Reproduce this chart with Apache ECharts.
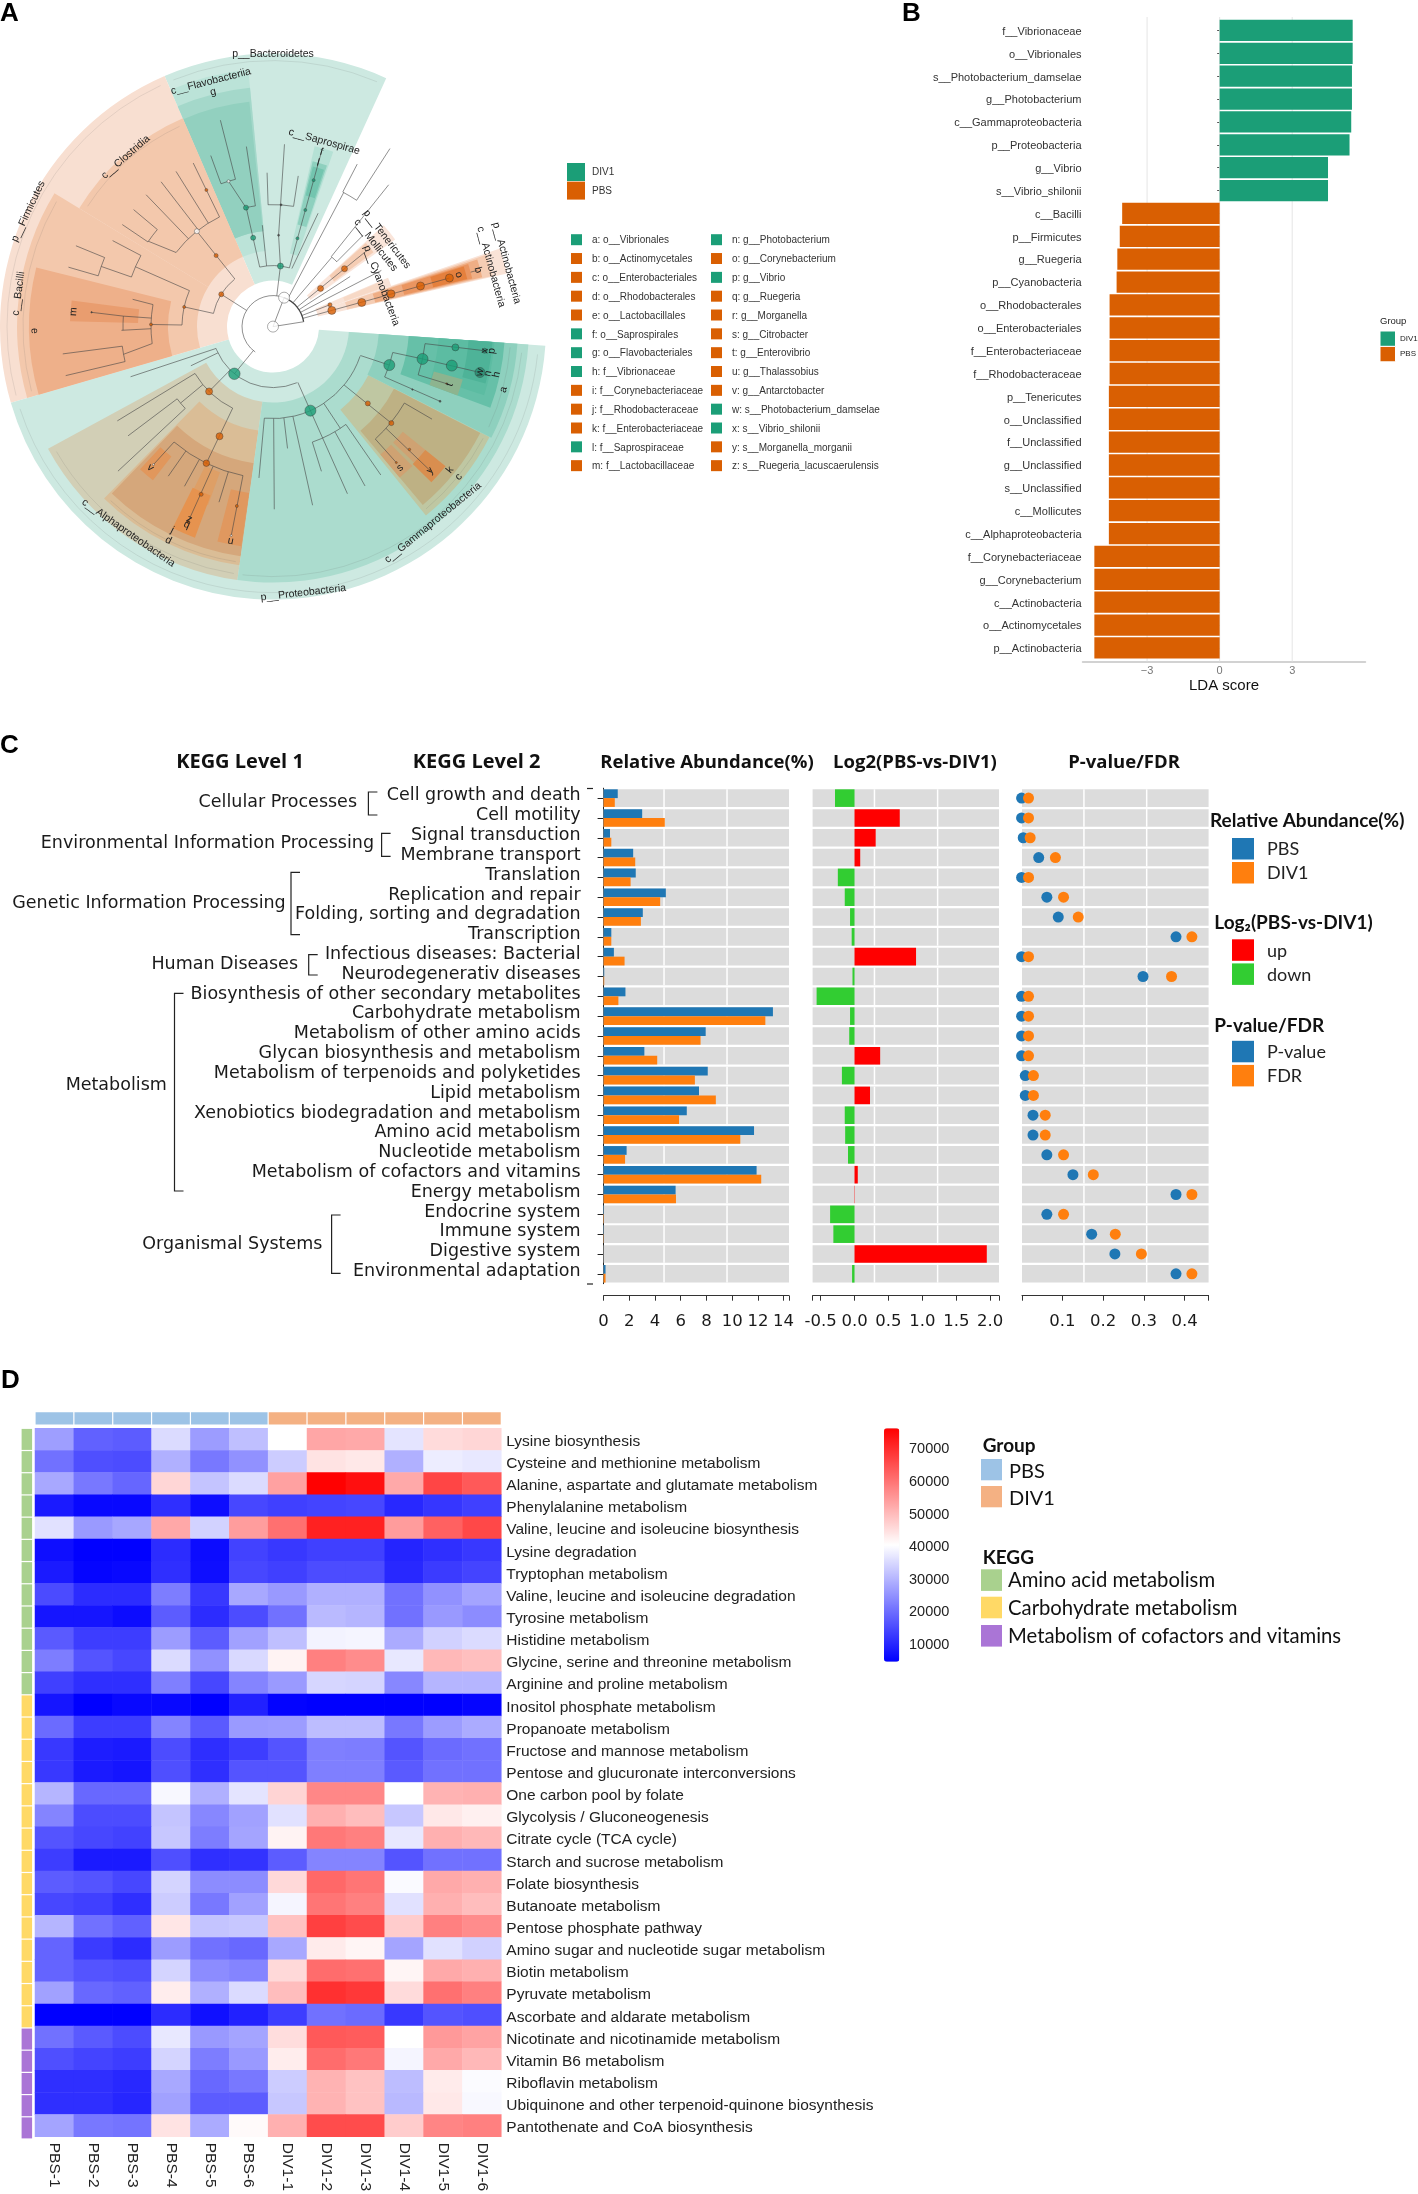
<!DOCTYPE html>
<html><head><meta charset="utf-8">
<style>html,body{margin:0;padding:0;background:#fff}#c{width:1418px;height:2194px}</style>
<script src="https://cdn.jsdelivr.net/npm/echarts@6/dist/echarts.min.js"></script></head>
<body><div id="c"></div>
<script>
// ---------- Panel A data (polar: radius, degrees counter-clockwise from east)
const cladeSectors=[
[46,273,65.5,113.4,'#CDE9E1'],[46,273,113.4,196.2,'#F8DFD1'],[46,273,196.2,356,'#CDE9E1'],
[46,240,12.8,19,'#F9E3D7'],[76,225,13,18.6,'#F5CDB4'],[105,215,13.3,18.2,'#EFAE85'],[135,205,13.6,17.8,'#EA9560'],[165,200,13.8,17.5,'#E5803D'],
[46,125,19,23,'#F9E3D7'],[76,115,19.5,22.5,'#F7D9C6'],
[46,150,35.5,42.5,'#FAE5DA'],[76,125,36.5,42,'#F5CDB4'],
[76,258,95.5,113.4,'#BBE3D8'],[96,240,95.5,113.4,'#A4D8CA'],[96,226,96,113.4,'#92D0BF'],
[75,185,71,77,'#B5E1D5'],[105,170,71.5,76.5,'#8ED0BE'],[135,165,72,76,'#73C5AF'],
[76,227,113.4,148.6,'#F3C8AC'],[76,256,148.6,196.2,'#F3C8AC'],[105,244,166,196.2,'#EEB08A'],[135,203,172.6,178.5,'#E99D6F'],
[76,256,208.5,262,'#D2CFB6'],[105,241,225.5,262,'#DABD96'],[138,232,226,262,'#D5A77B'],[165,195,227,232,'#E1975C'],[155,190,244,250,'#DE9F66'],[180,225,243.5,249.7,'#E6934F'],[168,222,255.5,261.8,'#E0985F'],
[76,256,262,356,'#ABDCCE'],[107,243,309,333,'#BFC7A2'],[136,233,310,332.8,'#BEB184'],[167,222,316,321,'#CFA272'],[167,197,310,315,'#CFA272'],[196,222,315.5,321,'#D98E4F'],
[106,245,333,356,'#8ED0BE'],[136,232,339.5,356,'#66C0A8'],[166,222,342,356,'#5CBCA2'],[196,220,345,356,'#4EB398'],[167,197,339.5,344.4,'#8DB48F']
];
const cladeArcs=[[31,9,69],[31,69,235],[61,74.4,102.6],[122,98.3,102.8],[152,104.3,110],[122,80.3,92.4],
[61,129,167.5],[122,116,142.6],[151,140,145.9],[91,156.7,179],[150,151.7,160.7],[182,157.7,163.8],[122,169.6,188],[150,176,181.4],[152,187.4,193.3],
[61,201,293],[91,211,243.7],[120,217,223],[152,229.4,258.6],[92,264.6,341.2],[122,288.8,306.7],[152,312.3,329.8],[122.5,335.7,347.8],[153,341.6,353.6],[91,45.4,50],[151.5,56.5,62.5]];
const cladeFaintArcs=[[266,67,112],[266,115,195],[266,198,354],[250,150,195],[221,115,147],[250,210,261],[250,263,354],[238,227,261],[238,335,355],[238,310,332]];
const cladeEdges=[[0,0,31,69],[0,0,31,9],[31,62,151.5,62.2],[151.5,62.6,183,62.6],[151.5,56.5,213,56.7],[31,50,91,49.7],[91,50.2,183,50.8],[91,45.5,128,45.4],
[31,39,122,39],[31,33,92,33],[31,27.4,122,27.4],[31,21,61,21],[31,15.4,183,15.4],[205,15.4,212,15.4],
[31,83,61,83],[61,102.6,122,102.7],[122,102.8,152,107],[152,104.3,213,104.3],[152,110,182,110],[122,98.3,182,98.4],[61,96,102,96],[61,83,91.5,86.5],[91.5,86.5,182.7,86.4],[122,80.3,152.8,80.5],[122,92.3,154,92.2],
[61,74.4,182,74.5],[61,72,122,68.3],
[31,148.5,61,148],[61,128.7,122,128.6],[61,167.5,91,167.5],[122,116,182,116],[122,122,183,122],[122,127.7,183,127.7],[122,133.9,183,133.9],[122,142.6,151,145.6],[151,145.9,182,145.9],[151,140,182,140],
[91,156.7,150,156.5],[150,151.7,182,151.8],[150,160.7,182,160.7],[182,157.7,213,157.7],[182,163.8,213,163.8],
[91,179,122,179],[122,169.6,143,169],[122,176,150,176],[150,176,182.5,175.5],[122,181,151.6,181.4],[122,188,152,190.5],[152,187.4,212,187.4],[152,193.3,213,193.3],
[31,230.7,61,230.7],[61,201,151,199.4],[61,205.5,91,205.5],[61,225.4,91,225.4],[91,211,182,211.2],[91,219.6,120,219.6],[120,217,181.5,217],[120,223,212,223],[91,243.7,152,244],
[152,229.4,182.6,229.1],[152,235,182.6,235],[152,241,182.6,241],[152,246.8,213,246.5],[152,252.9,183.7,252.9],[152,258.6,213,258.7],
[61,294,122,294],[92,264.6,152,264.7],[92,270.4,182.7,270.4],[92,276.8,122.7,276.8],[92,282.5,183,282.5],[122,288.8,152.6,288.5],[122,294,183,294],[92,303.5,122,303.5],[122,300.5,184,300],[122,306.7,183.4,306],
[92,320.6,152.7,320.8],[152,312.3,183.6,312.2],[152,318,213,317.5],[152,329.8,184,329.8],
[92,341.7,122.5,341.7],[122.5,347.8,153,347.8],[122.5,335.7,183,335.9],[153,341.6,182.5,341.8],[153,347.8,212,347.5],[153,353.6,213,353.5]];
const cladeNodes=[[0,0,11,'w'],[31,69,11,'w'],[61,230.7,11.5,'g'],[92,294,11,'g'],[122.5,341.7,11,'g'],[153,347.8,11,'g'],[183,347.7,11,'g'],[183.6,353.5,7,'g'],[212,347.5,10,'h'],[213,353.5,5,'h'],
[61,83,6,'g'],[91,102.6,5,'g'],[122,102.8,5,'g'],[152,107,3,'w'],[91.5,86.5,2,'d'],[122,86.2,2,'d'],[91.6,74.5,3,'g'],[121,74.5,3,'g'],[152,74.5,3,'g'],[153,335.7,1.5,'d'],[183,335.9,2,'d'],
[61,15.4,8,'o'],[92,15.2,8,'o'],[122.5,15.5,8,'o'],[153,15.4,8,'o'],[183,15.4,8,'o'],[61,21,4,'o'],[61,38.8,6,'o'],[92,39,6,'o'],[61,148,5,'o'],[91,128.7,4,'o'],[91,167.5,3,'o'],[122,128.6,5,'w'],[122,179,3,'o'],[152,116,3,'o'],
[91,225.4,7,'o'],[122,244,7,'o'],[152,244,6.5,'o'],[182.5,246.8,4,'o'],[213,246.5,3,'o'],[183,258.6,3,'o'],[213,258.7,2,'w'],[182.6,229.1,2,'w'],[122,321,5,'o'],[152.7,320.8,5,'o'],[183.6,318,2.5,'o'],[183.6,312.2,2,'o'],[213,317.5,2,'o'],[182.5,341.8,1.5,'o'],[182,175.5,1.5,'d']];
const cladeLabels=[['p__Bacteroidetes',272,90],['c__Flavobacteriia',253,104.2],['g',242,104.3],['c__Saprospirae',192,74.5],['f',181,74.5],['l',170,74.6],
['p__Tenericutes',143.5,37.5],['c__Mollicutes',131,38.4],['p__Cyanobacteria',116,20.7],['p__Actinobacteria',242,15.2],['c__Actinobacteria',226,15.3],['b',212.6,15.4],['o',193,15.6],
['a',239,344.7],['h',228.5,347.9],['n',220,347.7],['w',212,347.5],['p',220,353.6],['x',213,353.5],['t',186,341.8],['c',239,321],['k',227.5,321],['y',213,317.5],['s',190,312],
['c__Gammaproteobacteria',253,309.2],['p__Proteobacteria',268,276.5],['c__Alphaproteobacteria',252,235],['d',238,243.9],['j',227,243.7],['q',216,246.5],['z',210,246.5],['u',218.5,258.8],['v',187,229],
['m',200,175.7],['e',238.5,181],['c__Bacilli',256.6,172.6],['p__Firmicutes',270.5,154.8],['c__Clostridia',224.6,131]];
const cladeGroups=[['DIV1','#1B9E77'],['PBS','#D95F02']];
const cladeKeyLeft=[['a: o__Vibrionales',1],['b: o__Actinomycetales',0],['c: o__Enterobacteriales',0],['d: o__Rhodobacterales',0],['e: o__Lactobacillales',0],['f: o__Saprospirales',1],['g: o__Flavobacteriales',1],['h: f__Vibrionaceae',1],['i: f__Corynebacteriaceae',0],['j: f__Rhodobacteraceae',0],['k: f__Enterobacteriaceae',0],['l: f__Saprospiraceae',1],['m: f__Lactobacillaceae',0]];
const cladeKeyRight=[['n: g__Photobacterium',1],['o: g__Corynebacterium',0],['p: g__Vibrio',1],['q: g__Ruegeria',0],['r: g__Morganella',0],['s: g__Citrobacter',0],['t: g__Enterovibrio',0],['u: g__Thalassobius',0],['v: g__Antarctobacter',0],['w: s__Photobacterium_damselae',1],['x: s__Vibrio_shilonii',1],['y: s__Morganella_morganii',0],['z: s__Ruegeria_lacuscaerulensis',0]];
// ---------- Panel B data
const ldaCategories=['f__Vibrionaceae','o__Vibrionales','s__Photobacterium_damselae','g__Photobacterium','c__Gammaproteobacteria','p__Proteobacteria','g__Vibrio','s__Vibrio_shilonii','c__Bacilli','p__Firmicutes','g__Ruegeria','p__Cyanobacteria','o__Rhodobacterales','o__Enterobacteriales','f__Enterobacteriaceae','f__Rhodobacteraceae','p__Tenericutes','o__Unclassified','f__Unclassified','g__Unclassified','s__Unclassified','c__Mollicutes','c__Alphaproteobacteria','f__Corynebacteriaceae','g__Corynebacterium','c__Actinobacteria','o__Actinomycetales','p__Actinobacteria'];
const ldaScores=[5.5,5.5,5.47,5.47,5.44,5.37,4.48,4.48,-4.03,-4.13,-4.23,-4.26,-4.55,-4.55,-4.55,-4.55,-4.58,-4.58,-4.58,-4.58,-4.58,-4.58,-4.58,-5.18,-5.18,-5.18,-5.18,-5.18];
const ldaTicks=[-3,0,3];
// ---------- Panel C data
const keggLevel2=['Cell growth and death','Cell motility','Signal transduction','Membrane transport','Translation','Replication and repair','Folding, sorting and degradation','Transcription','Infectious diseases: Bacterial','Neurodegenerativ diseases','Biosynthesis of other secondary metabolites','Carbohydrate metabolism','Metabolism of other amino acids','Glycan biosynthesis and metabolism','Metabolism of terpenoids and polyketides','Lipid metabolism','Xenobiotics biodegradation and metabolism','Amino acid metabolism','Nucleotide metabolism','Metabolism of cofactors and vitamins','Energy metabolism','Endocrine system','Immune system','Digestive system','Environmental adaptation'];
const abundancePBS=[1.1,3.0,0.5,2.3,2.5,4.84,3.05,0.6,0.8,0.05,1.7,13.17,7.94,3.17,8.1,7.42,6.47,11.7,1.79,11.9,5.6,0.03,0.02,0,0.15];
const abundanceDIV1=[0.87,4.76,0.6,2.46,2.1,4.4,2.9,0.6,1.63,0.05,1.15,12.58,7.54,4.17,7.1,8.73,5.87,10.63,1.67,12.26,5.63,0.03,0.02,0,0.15];
const log2Ratio=[-0.288,0.667,0.312,0.084,-0.246,-0.144,-0.066,-0.042,0.907,-0.03,-0.559,-0.066,-0.078,0.378,-0.186,0.228,-0.144,-0.138,-0.096,0.048,0.005,-0.36,-0.312,1.95,-0.036];
const pValue=[0,0,0.004,0.042,0,0.062,0.09,0.379,0,0.298,0,0,0,0,0.009,0.009,0.028,0.028,0.062,0.126,0.379,0.062,0.172,0.229,0.379];
const fdrValue=[0.017,0.017,0.021,0.083,0.017,0.103,0.139,0.418,0.017,0.368,0.017,0.017,0.017,0.017,0.029,0.029,0.058,0.058,0.103,0.176,0.418,0.103,0.23,0.294,0.418];
const keggLevel1=[['Cellular Processes',368.4,792,815,357,800.8],['Environmental Information Processing',381.6,833.3,856.3,374,841.7],['Genetic Information Processing',291,872.4,934.7,285.7,902],['Human Diseases',308.7,954.6,975,298,963.4],['Metabolism',174.5,993.3,1191,166.8,1084.4],['Organismal Systems',331.6,1215,1273.4,322.4,1242.8]];
// ---------- Panel D data (thousands)
const pathways=['Lysine biosynthesis','Cysteine and methionine metabolism','Alanine, aspartate and glutamate metabolism','Phenylalanine metabolism','Valine, leucine and isoleucine biosynthesis','Lysine degradation','Tryptophan metabolism','Valine, leucine and isoleucine degradation','Tyrosine metabolism','Histidine metabolism','Glycine, serine and threonine metabolism','Arginine and proline metabolism','Inositol phosphate metabolism','Propanoate metabolism','Fructose and mannose metabolism','Pentose and glucuronate interconversions','One carbon pool by folate','Glycolysis / Gluconeogenesis','Citrate cycle (TCA cycle)','Starch and sucrose metabolism','Folate biosynthesis','Butanoate metabolism','Pentose phosphate pathway','Amino sugar and nucleotide sugar metabolism','Biotin metabolism','Pyruvate metabolism','Ascorbate and aldarate metabolism','Nicotinate and nicotinamide metabolism','Vitamin B6 metabolism','Riboflavin metabolism','Ubiquinone and other terpenoid-quinone biosynthesis','Pantothenate and CoA biosynthesis'];
const samples=['PBS-1','PBS-2','PBS-3','PBS-4','PBS-5','PBS-6','DIV1-1','DIV1-2','DIV1-3','DIV1-4','DIV1-5','DIV1-6'];
const pathwayClass=[0,0,0,0,0,0,0,0,0,0,0,0,1,1,1,1,1,1,1,1,1,1,1,1,1,1,1,2,2,2,2,2];
const heatValues=[
[26.6,18,17.3,35.2,26.3,31.3,40.3,52.8,52.4,36.4,45.3,46],
[20.2,15.5,15.1,29.1,21.3,24.8,33.1,44.2,43.5,29.1,37.7,37],
[28,21.3,18.7,46,32,35.2,53.5,76,74,52.4,66.5,63.6],
[8,5.5,5.5,11,6.2,14.3,13.3,14,14.4,10,12,13.3],
[36,26,27.8,52.5,33.9,54,60.4,71.5,71.5,54.2,62.5,66],
[6.4,4.5,4.5,10.5,6.1,13.6,12.3,13.3,13.3,9.4,11,12.3],
[8,5,5.5,11,6.4,14.3,13.3,15.1,15.1,10,12.6,14],
[14.9,10.5,10.5,22,12.3,28,25.9,29.1,29.1,20.2,24.8,27.4],
[7.3,7.3,6.1,17.3,10.5,15.1,20.2,30.6,29.9,20.2,25.9,24.1],
[17,13,13,26.3,17.3,27,31.3,38.5,38.9,28.4,33.8,35.2],
[22,16.2,14.4,35.2,24.8,34.9,42,58.2,56.4,37,50.3,49.2],
[13.3,11,11,22.3,14.4,23,26,34.5,34.2,23.4,29.8,29.8],
[7.3,4.4,5.5,5.5,4.4,9,4.8,4.4,4.4,4.4,4.4,5],
[19.4,13,13,23,17,26,26.3,30.9,30.9,21.3,26.3,28.4],
[12.3,8.4,8,15.1,10.9,13,16.2,22.3,22,16.2,19.4,20.2],
[12.3,8,7.3,15.5,11,16.2,16.2,22.3,22.3,17,20.2,20.2],
[29.9,19,19,39.2,29.1,36.4,46.3,57.1,57.1,40.3,51,51.4],
[23,15.1,15.1,32,23.4,27,36,51.4,49.6,32.4,43.5,42.4],
[16.2,14.4,13.7,32.4,22,27.4,42,59.3,58.2,37,51.4,50.3],
[13,8,8,15.5,11,11.5,17.3,23,23,16.2,20.2,20.2],
[17.3,16.2,14.4,34.2,24.1,24.1,45.6,61.5,59.7,39.6,52.4,51.4],
[14.4,13.3,11,33.1,21.3,27,38.9,59.7,58.2,36,51.4,49.6],
[29.9,20.2,18,43.8,32,32.4,48.9,67.2,65.4,47.4,58.2,56.4],
[18.4,12.6,10.5,26.3,20.2,19,28,43.1,41.7,27.4,36,33.8],
[18.4,16.2,15.5,34.2,24.1,23,45.6,61,60.4,41.7,52.4,51.4],
[27,19,18,42.8,29.1,35.2,49.6,69.4,68.3,45.3,60.4,58.2],
[4.4,4.4,4.4,10.5,6.6,9,13,20.2,19.4,12.3,16.2,15.5],
[20.2,17,15.1,37,25.9,27.4,45,63.6,63.2,40.3,54.6,53.2],
[15.5,14,13,34.2,22,25.9,42.8,61,59.3,38.9,52.4,50.3],
[11,11,10,28,19,21.3,33.1,51,48.9,30.9,43.1,39.7],
[11,11,9.7,27,17.3,17.3,32.4,51,48.9,30.4,43.5,39.2],
[27.4,21.3,20.7,44.2,28.4,41,51.4,65.4,65.4,47.4,57.4,58.2]];
const colorbarTicks=[70000,60000,50000,40000,30000,20000,10000];
const classNames=['Amino acid metabolism','Carbohydrate metabolism','Metabolism of cofactors and vitamins'];
const classColors=['#A9D18E','#FFD966','#AA75D6'];

// ---------- helpers
const SANS='"Liberation Sans",Arial,sans-serif', TAH='"DejaVu Sans",sans-serif', CAL='Lato,sans-serif', OPEN='"Open Sans",sans-serif';
const green='#1B9E77',orange='#D95F02';
const T=(text,x,y,font,o={})=>({type:'text',x,y,silent:true,z:20,style:{text,font,fill:o.fill||'#111',align:o.align||'left',textAlign:o.align||'left',verticalAlign:'middle',textVerticalAlign:'middle'}});
const R=(x,y,w,h,fill,stroke)=>({type:'rect',silent:true,z:20,shape:{x,y,width:w,height:h},style:{fill,stroke:stroke||null,lineWidth:stroke?1:0}});
const P=(pts)=>({type:'polyline',silent:true,z:20,shape:{points:pts},style:{stroke:'#222',lineWidth:1.2,fill:null}});
const g=[];
g.push(T('A',0,14,'bold 26px '+SANS,{fill:'#000'}),T('B',902,14,'bold 26px '+SANS,{fill:'#000'}),T('C',0,746,'bold 26px '+SANS,{fill:'#000'}),T('D',1,1381,'bold 26px '+SANS,{fill:'#000'}));
// A legends
cladeGroups.forEach((d,i)=>{g.push(R(567,163+i*18.6,18,18,d[1]),T(d[0],592,172.5+i*18.8,'10px '+SANS,{fill:'#333'}));});
[[cladeKeyLeft,571,592],[cladeKeyRight,711,732]].forEach(([list,sx,tx])=>list.forEach((d,i)=>{const y=239.7+i*18.83;g.push(R(sx,y-5.5,11,11,d[1]?green:orange),T(d[0],tx,y+1,'10px '+SANS,{fill:'#333'}));}));
// B legend
g.push(T('Group',1380,321,'9.5px '+SANS,{fill:'#222'}),R(1380,331,15.5,15.4,green,'#fff'),R(1380,346.4,15.5,15.4,orange,'#fff'),T('DIV1',1400,339,'8px '+SANS,{fill:'#222'}),T('PBS',1400,354,'8px '+SANS,{fill:'#222'}));
// C headers / level 1 / legends
[['KEGG Level 1',240,20],['KEGG Level 2',476.6,20],['Relative Abundance(%)',707,18.5],['Log2(PBS-vs-DIV1)',915,18.5],['P-value/FDR',1124,18.5]].forEach(d=>g.push(T(d[0],d[1],762.6,'bold '+d[2]+'px '+OPEN,{align:'center',fill:'#111'})));
keggLevel1.forEach(d=>{g.push(T(d[0],d[4],d[5]+1.3,'17.5px '+TAH,{align:'right',fill:'#1a1a1a'}),P([[d[1]+9,d[2]],[d[1],d[2]],[d[1],d[3]],[d[1]+9,d[3]]]));});
g.push(P([[587,788.5],[593,788.5]]),P([[587,1284],[593,1284]]));
const lg=(title,ty,items)=>{g.push(T(title,title[0]==='R'?1210:1214.3,ty+1.2,'bold 19px '+CAL,{fill:'#111'}));items.forEach(d=>g.push(R(1232,d[1],22,21.5,d[2]),T(d[0],1267,d[1]+11.5,'18px '+CAL,{fill:'#222'})));};
lg('Relative Abundance(%)',820,[['PBS',838,'#1F77B4'],['DIV1',862,'#FF7F0E']]);
lg('Log\u2082(PBS-vs-DIV1)',921.4,[['up',939.3,'#FF0000'],['down',963.4,'#32CD32']]);
lg('P-value/FDR',1024.7,[['P-value',1040.8,'#1F77B4'],['FDR',1064.9,'#FF7F0E']]);
// D legends
g.push(T('Group',982.7,1446.2,'bold 19px '+CAL,{fill:'#111'}),R(981,1459,21,21.3,'#9DC3E6'),T('PBS',1009,1471.2,'20px '+CAL),R(981,1486,21,21.3,'#F4B183'),T('DIV1',1009,1498.9,'20px '+CAL),T('KEGG',982.7,1557.9,'bold 19px '+CAL,{fill:'#111'}));
classNames.forEach((n,i)=>{const ys=[1569.3,1596.7,1625][i];g.push(R(981,ys,21,21.6,classColors[i]),T(n,1008,ys+11.5,'20.3px '+CAL));});
const cbMax=76150,cbMin=4360,cbTop=1428.3,cbH=233.4;
colorbarTicks.forEach(v=>g.push(T(String(v),909,cbTop+(cbMax-v)/(cbMax-cbMin)*cbH+1.2,'14.5px '+SANS,{fill:'#222'})));

// ---------- axes and series
const grid=[],xAxis=[],yAxis=[],series=[];
const addAxis=(gr,x,y)=>{grid.push(gr);const gi=grid.length-1;xAxis.push(Object.assign({gridIndex:gi},x));yAxis.push(Object.assign({gridIndex:gi},y));return gi;};
// Polar A
const polar={center:[273,326.6],radius:[0,273]};
const angleAxis={type:'value',min:0,max:360,startAngle:0,clockwise:false,show:false};
const radiusAxis={type:'value',min:0,max:273,show:false};
const rad=d=>d*Math.PI/180;
series.push({type:'custom',coordinateSystem:'polar',z:1,silent:true,clip:false,encode:{radius:0,angle:1},
 data:cladeSectors.map(s=>[s[1],s[2]]),
 renderItem(p,api){const s=cladeSectors[p.dataIndex],c=api.coord([s[1],s[2]]),c0=api.coord([s[0],s[2]]);
  return{type:'sector',shape:{cx:p.coordSys.cx,cy:p.coordSys.cy,r:c[2],r0:c0[2],startAngle:-rad(s[3]),endAngle:-rad(s[2]),clockwise:true},style:{fill:s[4]}};}});
series.push({type:'custom',coordinateSystem:'polar',z:2,silent:true,clip:false,encode:{radius:0,angle:1},
 data:cladeFaintArcs.map(s=>[s[0],s[1]]),
 renderItem(p,api){const s=cladeFaintArcs[p.dataIndex],c=api.coord([s[0],s[1]]);
  return{type:'arc',shape:{cx:p.coordSys.cx,cy:p.coordSys.cy,r:c[2],startAngle:-rad(s[2]),endAngle:-rad(s[1]),clockwise:true},style:{fill:null,stroke:'rgba(90,90,90,0.25)',lineWidth:0.5}};}});
series.push({type:'custom',coordinateSystem:'polar',z:2,silent:true,clip:false,encode:{radius:0,angle:1},
 data:cladeArcs.map(s=>[s[0],s[1]]),
 renderItem(p,api){const s=cladeArcs[p.dataIndex],c=api.coord([s[0],s[1]]);
  return{type:'arc',shape:{cx:p.coordSys.cx,cy:p.coordSys.cy,r:c[2],startAngle:-rad(s[2]),endAngle:-rad(s[1]),clockwise:true},style:{fill:null,stroke:'#444',lineWidth:s[0]===31&&s[1]===9?1.3:0.6}};}});
series.push({type:'custom',coordinateSystem:'polar',z:2,silent:true,clip:false,encode:{radius:0,angle:1},
 data:cladeEdges.map(s=>[s[0],s[1]]),
 renderItem(p,api){const s=cladeEdges[p.dataIndex],a=api.coord([s[0],s[1]]),b=api.coord([s[2],s[3]]);
  return{type:'line',shape:{x1:a[0],y1:a[1],x2:b[0],y2:b[1]},style:{stroke:'#444',lineWidth:0.6}};}});
const nodeCol={w:'#fff',g:'#1B9E77',h:'#2A8A70',o:'#D95F02',d:'#444'};
series.push({type:'scatter',coordinateSystem:'polar',z:3,silent:true,clip:false,data:cladeNodes.map(n=>({value:[n[0],n[1]],symbolSize:n[2],itemStyle:{color:nodeCol[n[3]]}})),itemStyle:{borderColor:'#333',borderWidth:0.5}});
series.push({type:'custom',coordinateSystem:'polar',z:4,silent:true,clip:false,encode:{radius:0,angle:1},
 data:cladeLabels.map(s=>[s[1],s[2]]),
 renderItem(p,api){const s=cladeLabels[p.dataIndex],c=api.coord([s[1],s[2]]);const rot=s[2]<180?s[2]-90:s[2]-270;
  return{type:'text',x:c[0],y:c[1],rotation:rad(rot),style:{text:s[0],font:'10.5px '+SANS,fill:'#222',align:'center',textAlign:'center',verticalAlign:'middle',textVerticalAlign:'middle'}};}});
// B
const gB=addAxis({left:1082.5,top:19,width:283,height:640.4},
 {type:'value',min:-5.67,max:6.03,offset:2,axisLine:{show:true,onZero:false,lineStyle:{color:'#C4C4C4',width:1.5}},axisTick:{show:false,customValues:ldaTicks},splitLine:{show:false},
  axisLabel:{customValues:ldaTicks,color:'#777',fontSize:11,fontFamily:SANS,margin:4,formatter:v=>v<0?'\u2212'+Math.abs(v):String(v)},
  name:'LDA score',nameLocation:'middle',nameGap:17,nameTextStyle:{fontSize:15,fontFamily:SANS,color:'#111'}},
 {type:'category',inverse:true,data:ldaCategories,axisLine:{show:false},axisTick:{show:true,length:2.5,lineStyle:{color:'#555'},alignWithLabel:true},axisLabel:{fontSize:11,fontFamily:SANS,color:'#333',margin:1,verticalAlign:'top',lineHeight:2.6,interval:0}});
series.push({type:'custom',xAxisIndex:gB,yAxisIndex:gB,z:1,silent:true,clip:false,encode:{x:0},data:ldaTicks.map(v=>[v]),
 renderItem(p,api){const c=api.coord([api.value(0),0]);const r=p.coordSys;return{type:'line',shape:{x1:c[0],y1:r.y-2,x2:c[0],y2:r.y+r.height+2},style:{stroke:'#E6E6E6',lineWidth:1}};}});
series.push({type:'bar',xAxisIndex:gB,yAxisIndex:gB,z:3,silent:true,barWidth:'93%',data:ldaScores,itemStyle:{color:p=>p.value>0?green:orange}});
// C
const rowsTop=788.2,rowsH=495.5;
const stripes=(gi,min,max,white)=>({type:'custom',xAxisIndex:gi,yAxisIndex:gi,z:1,silent:true,clip:false,encode:{x:0,y:1},data:keggLevel2.map((_,i)=>[min,i]),
 renderItem(p,api){const i=api.value(1),a=api.coord([min,i]),b=api.coord([max,i]),h=api.size([0,1])[1]*0.888;
  const ch=[{type:'rect',shape:{x:a[0],y:a[1]-h/2,width:b[0]-a[0],height:h},style:{fill:'#DCDCDC'}}];
  white.forEach(w=>{const c=api.coord([w,i]);ch.push({type:'line',shape:{x1:c[0],y1:a[1]-h/2,x2:c[0],y2:a[1]+h/2},style:{stroke:'#fff',lineWidth:1.5}});});
  return{type:'group',children:ch};}});
const Cx=(min,max,labels,ticks,fmt)=>({type:'value',min,max,offset:12,axisLine:{show:true,onZero:false,lineStyle:{color:'#333'}},axisTick:{show:true,length:5,customValues:ticks,lineStyle:{color:'#333'}},splitLine:{show:false},axisLabel:{customValues:labels,fontSize:16.5,fontFamily:TAH,color:'#1a1a1a',margin:18,hideOverlap:false,formatter:fmt}});
const gC1=addAxis({left:603.6,top:rowsTop,width:185.4,height:rowsH},Cx(0,14.42,[0,2,4,6,8,10,12,14],[0,2,4,6,8,10,12,14,14.42],v=>String(v)),
 {type:'category',inverse:true,data:keggLevel2,offset:10,axisLine:{show:true,lineStyle:{color:'#222'}},axisTick:{show:true,length:6,alignWithLabel:true,lineStyle:{color:'#222'}},axisLabel:{interval:0,fontSize:17.5,fontFamily:TAH,color:'#1a1a1a',margin:13,verticalAlign:'bottom',lineHeight:4.4}});
series.push(stripes(gC1,0,14.42,[4.7,9.6]));
series.push({type:'bar',name:'PBS',xAxisIndex:gC1,yAxisIndex:gC1,z:3,silent:true,barWidth:8.8,barGap:0,data:abundancePBS,itemStyle:{color:'#1F77B4'}});
series.push({type:'bar',name:'DIV1',xAxisIndex:gC1,yAxisIndex:gC1,z:3,silent:true,barWidth:8.8,barGap:0,data:abundanceDIV1,itemStyle:{color:'#FF7F0E'}});
const gC2=addAxis({left:812.6,top:rowsTop,width:186.4,height:rowsH},Cx(-0.618,2.13,[-0.5,0,0.5,1,1.5,2],[-0.618,-0.5,0,0.5,1,1.5,2,2.13],v=>v.toFixed(1)),
 {type:'category',inverse:true,data:keggLevel2,show:false});
series.push(stripes(gC2,-0.618,2.13,[0.294,1.225]));
series.push({type:'bar',xAxisIndex:gC2,yAxisIndex:gC2,z:3,silent:true,barWidth:17.6,data:log2Ratio,itemStyle:{color:p=>p.value>0?'#FF0000':'#32CD32'}});
const gC3=addAxis({left:1022,top:rowsTop,width:186.6,height:rowsH},Cx(0.001,0.459,[0.1,0.2,0.3,0.4],[0.001,0.1,0.2,0.3,0.4,0.459],v=>v.toFixed(1)),
 {type:'category',inverse:true,data:keggLevel2,show:false});
series.push(stripes(gC3,0.001,0.459,[0.153,0.307]));
series.push({type:'scatter',xAxisIndex:gC3,yAxisIndex:gC3,z:3,silent:true,clip:false,symbolSize:11,data:pValue.map((v,i)=>[v,i]),itemStyle:{color:'#1F77B4',opacity:1}});
series.push({type:'scatter',xAxisIndex:gC3,yAxisIndex:gC3,z:4,silent:true,clip:false,symbolSize:11,data:fdrValue.map((v,i)=>[v,i]),itemStyle:{color:'#FF7F0E',opacity:1}});
// D main
const gD=addAxis({left:35,top:1428.3,width:466.3,height:710.7},
 {type:'category',data:samples,axisLine:{show:false},axisTick:{show:false},splitLine:{show:false},axisLabel:{rotate:-90,interval:0,fontSize:15.5,fontFamily:SANS,color:'#222',margin:6}},
 {type:'category',inverse:true,position:'right',data:pathways,axisLine:{show:false},axisTick:{show:false},splitLine:{show:false},axisLabel:{interval:0,fontSize:15.5,fontFamily:SANS,color:'#222',margin:5,verticalAlign:'top',lineHeight:4.5}});
const heatIdx=series.length;
const heatData=[];heatValues.forEach((row,r)=>row.forEach((v,c)=>heatData.push([c,r,v*1000])));
series.push({type:'heatmap',xAxisIndex:gD,yAxisIndex:gD,silent:true,data:heatData,progressive:0});
// D annotation strips
const gTop=addAxis({left:35,top:1411.7,width:466.3,height:13.3},{type:'category',data:samples,show:false},{type:'category',data:['Group'],show:false});
const strip=(gi,data,col)=>({type:'custom',xAxisIndex:gi,yAxisIndex:gi,silent:true,clip:false,encode:{x:0,y:1},data,
 renderItem(p,api){const c=api.coord([api.value(0),api.value(1)]),s=api.size([1,1]);return{type:'rect',shape:{x:c[0]-s[0]/2+0.6,y:c[1]-s[1]/2+0.6,width:s[0]-1.2,height:s[1]-1.2},style:{fill:col(p.dataIndex)}};}});
series.push(strip(gTop,samples.map((_,i)=>[i,0]),i=>i<6?'#9DC3E6':'#F4B183'));
const gLeft=addAxis({left:21,top:1428.3,width:11.7,height:710.7},{type:'category',data:['KEGG'],show:false},{type:'category',inverse:true,data:pathways,show:false});
series.push(strip(gLeft,pathways.map((_,i)=>[0,i]),i=>classColors[pathwayClass[i]]));

const chart=echarts.init(document.getElementById('c'),null,{renderer:'canvas',width:1418,height:2194});
chart.setOption({animation:false,backgroundColor:'#fff',polar,angleAxis,radiusAxis,grid,xAxis,yAxis,series,graphic:{elements:g},
 visualMap:{type:'continuous',seriesIndex:heatIdx,dimension:2,min:cbMin,max:cbMax,calculable:false,left:884,top:cbTop,itemWidth:15.3,itemHeight:cbH,padding:0,text:null,showLabel:false,inRange:{color:['#0000FF','#FFFFFF','#FF0000']},textStyle:{color:'transparent'},formatter:()=>''}});
</script></body></html>
